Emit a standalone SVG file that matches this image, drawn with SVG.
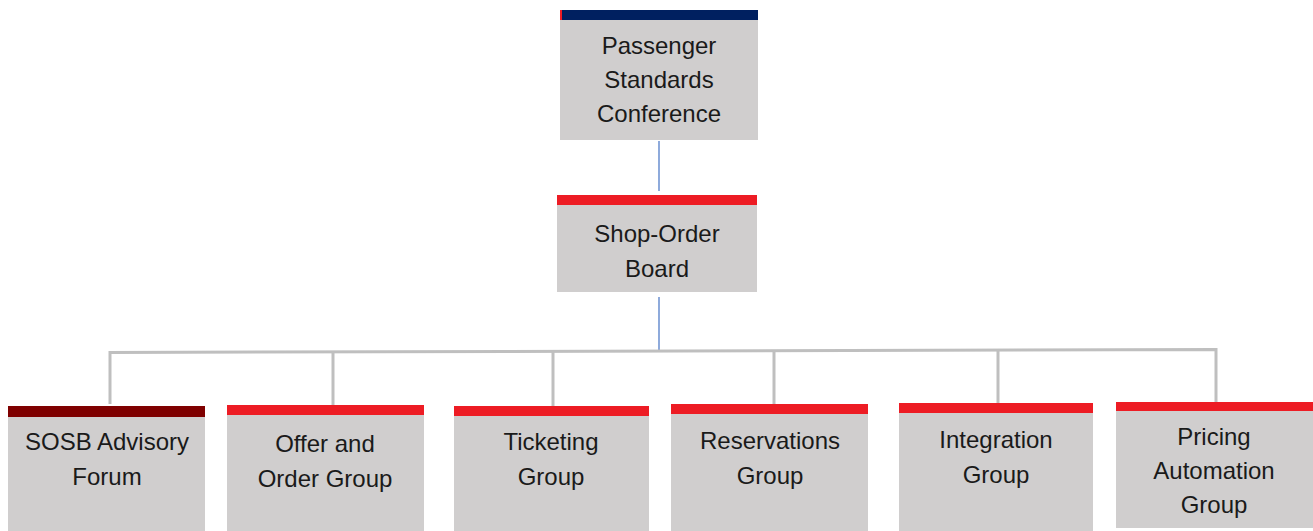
<svg xmlns="http://www.w3.org/2000/svg" width="1313" height="531" viewBox="0 0 1313 531">
<style>
.box{fill:#D0CECE}
.red{fill:#ED1C24}
.t{font-family:"Liberation Sans",Arial,sans-serif;font-size:24px;fill:#1a1a1a;text-anchor:middle}
.blue{stroke:#4472C4;stroke-width:1.2;fill:none}
.gray{stroke:#BFBFBF;stroke-width:3;fill:none}
</style>
<rect width="1313" height="531" fill="#ffffff"/>
<g id="connectors">
<line class="blue" x1="659" y1="141" x2="659" y2="191"/>
<line class="blue" x1="659" y1="297" x2="659" y2="350"/>
<path class="gray" d="M110,404 V352.5 L1216,349.5 V403"/>
<line class="gray" x1="333" y1="352" x2="333" y2="405"/>
<line class="gray" x1="553" y1="351" x2="553" y2="406"/>
<line class="gray" x1="774" y1="351" x2="774" y2="404"/>
<line class="gray" x1="998" y1="350" x2="998" y2="403"/>
</g>
<g id="psc">
<rect class="box" x="560" y="20" width="198" height="120"/>
<rect x="560" y="10" width="198" height="10" fill="#002060"/>
<rect x="560" y="10" width="2" height="10" fill="#ED1C24"/>
<text class="t" x="659" y="54">Passenger</text>
<text class="t" x="659" y="88">Standards</text>
<text class="t" x="659" y="122">Conference</text>
</g>
<g id="sob">
<rect class="box" x="557" y="205" width="200" height="87"/>
<rect class="red" x="557" y="195" width="200" height="10"/>
<text class="t" x="657" y="242">Shop-Order</text>
<text class="t" x="657" y="277">Board</text>
</g>
<g id="sosb">
<rect class="box" x="8" y="417" width="197" height="114"/>
<rect x="8" y="406" width="197" height="11" fill="#7F0000"/>
<text class="t" x="107" y="450">SOSB Advisory</text>
<text class="t" x="107" y="485">Forum</text>
</g>
<g id="offer">
<rect class="box" x="227" y="415" width="197" height="116"/>
<rect class="red" x="227" y="405" width="197" height="10"/>
<text class="t" x="325" y="452">Offer and</text>
<text class="t" x="325" y="487">Order Group</text>
</g>
<g id="ticketing">
<rect class="box" x="454" y="416" width="195" height="115"/>
<rect class="red" x="454" y="406" width="195" height="10"/>
<text class="t" x="551" y="450">Ticketing</text>
<text class="t" x="551" y="485">Group</text>
</g>
<g id="reservations">
<rect class="box" x="671" y="414" width="197" height="117"/>
<rect class="red" x="671" y="404" width="197" height="10"/>
<text class="t" x="770" y="449">Reservations</text>
<text class="t" x="770" y="484">Group</text>
</g>
<g id="integration">
<rect class="box" x="899" y="413" width="194" height="118"/>
<rect class="red" x="899" y="403" width="194" height="10"/>
<text class="t" x="996" y="448">Integration</text>
<text class="t" x="996" y="483">Group</text>
</g>
<g id="pricing">
<rect class="box" x="1116" y="411" width="197" height="117"/>
<rect class="red" x="1116" y="402" width="197" height="9"/>
<text class="t" x="1214" y="445">Pricing</text>
<text class="t" x="1214" y="479">Automation</text>
<text class="t" x="1214" y="513">Group</text>
</g>
</svg>
